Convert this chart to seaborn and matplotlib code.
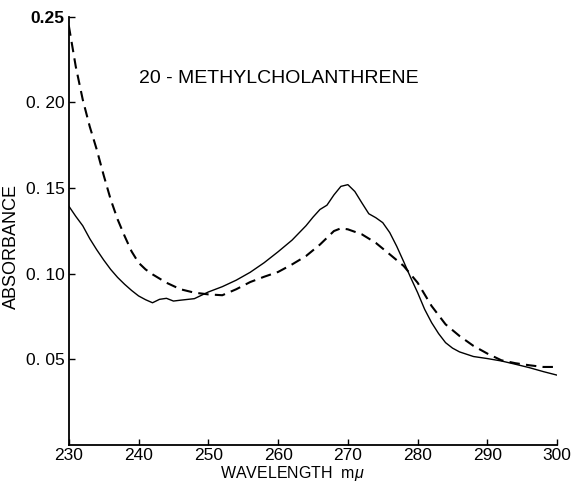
import matplotlib
matplotlib.use("Agg")
import matplotlib.pyplot as plt
import seaborn as sns
import pandas as pd

# ---- data ----
wl_solid = [230, 231, 232, 233, 234, 235, 236, 237, 238, 239, 240, 241, 242, 243, 244, 245,
            246, 248, 250, 252, 254, 256, 258, 260, 262, 264, 265, 266, 267, 268, 269,
            270, 271, 272, 273, 274, 275, 276, 277, 278, 279, 280, 281, 282, 283, 284,
            285, 286, 288, 290, 292, 294, 296, 298, 300]
abs_solid = [0.1395, 0.1335, 0.128, 0.1205, 0.114, 0.108, 0.1025, 0.0978, 0.0938, 0.0902,
             0.087, 0.0848, 0.083, 0.085, 0.0856, 0.084, 0.0845, 0.0854, 0.0893, 0.0924,
             0.0962, 0.1008, 0.1064, 0.1128, 0.1196, 0.128, 0.133, 0.1375, 0.140, 0.146,
             0.151, 0.152, 0.148, 0.1414, 0.135, 0.1327, 0.1298, 0.124, 0.116, 0.107,
             0.0977, 0.0889, 0.0792, 0.0714, 0.065, 0.0597, 0.0565, 0.0543, 0.0516,
             0.0504, 0.049, 0.0471, 0.0451, 0.0428, 0.0407]

wl_dash = [230, 231, 232, 233, 234, 235, 236, 237, 238, 239, 240, 241, 242, 244, 246, 248,
           250, 252, 254, 256, 258, 260, 262, 264, 266, 268, 269, 270, 272, 274, 276, 278,
           280, 282, 284, 286, 288, 290, 292, 294, 296, 298, 300]
abs_dash = [0.245, 0.221, 0.2017, 0.186, 0.1726, 0.1575, 0.1434, 0.1317, 0.122, 0.113,
            0.1064, 0.1025, 0.0996, 0.0947, 0.0909, 0.0889, 0.0879, 0.0874, 0.0909,
            0.0951, 0.0982, 0.101, 0.1054, 0.1103, 0.117, 0.1249, 0.1265, 0.1259, 0.123,
            0.118, 0.1113, 0.1045, 0.0947, 0.0811, 0.0704, 0.0636, 0.0578, 0.0533,
            0.0494, 0.0477, 0.0465, 0.0455, 0.0455]

x_ticks = [230, 240, 250, 260, 270, 280, 290, 300]
y_ticks = [0.05, 0.10, 0.15, 0.20, 0.25]
y_tick_labels = ["0. 05", "0. 10", "0. 15", "0. 20", "0.25"]
title_text = "20 - METHYLCHOLANTHRENE"
x_label = "WAVELENGTH  m$\\mu$"
y_label = "ABSORBANCE"

# ---- plot ----
sns.set_style("ticks")
regular = ["Liberation Sans", "DejaVu Sans"]
plt.rcParams["font.family"] = regular
plt.rcParams["mathtext.fontset"] = "custom"
plt.rcParams["mathtext.it"] = "Liberation Sans:italic"
plt.rcParams["mathtext.rm"] = "Liberation Sans"
for k in ["text.color", "axes.labelcolor", "xtick.color", "ytick.color", "axes.edgecolor"]:
    plt.rcParams[k] = "black"

fig = plt.figure(figsize=(5.78, 4.83), dpi=100)
ax = fig.add_axes([0.119, 0.079, 0.845, 0.886])

df_s = pd.DataFrame({"wl": wl_solid, "a": abs_solid})
df_d = pd.DataFrame({"wl": wl_dash, "a": abs_dash})
sns.lineplot(data=df_s, x="wl", y="a", ax=ax, color="black", linewidth=1.0)
sns.lineplot(data=df_d, x="wl", y="a", ax=ax, color="black", linewidth=1.5,
             linestyle=(0, (5, 3)))

ax.set_xlim(230, 300)
ax.set_ylim(0, 0.25)
ax.set_xticks(x_ticks)
ax.set_xticklabels([str(t) for t in x_ticks], fontsize=12.5)
ax.set_yticks(y_ticks)
ax.set_yticklabels(y_tick_labels, fontsize=12.5)
ax.get_yticklabels()[-1].set_fontweight("bold")
ax.tick_params(axis="both", direction="in", length=4, width=1.0, color="black",
               labelcolor="black")
ax.tick_params(axis="x", pad=2)
ax.tick_params(axis="y", pad=3)

for s in ["top", "right"]:
    ax.spines[s].set_visible(False)
for s in ["left", "bottom"]:
    ax.spines[s].set_linewidth(1.3)
    ax.spines[s].set_color("black")

ax.set_xlabel(x_label, fontsize=11.5, color="black")
ax.xaxis.set_label_coords(0.457, -0.044)
ax.set_ylabel(y_label, fontsize=13, color="black")
ax.yaxis.set_label_coords(-0.10, 0.463)

ax.text(240, 0.214, title_text, fontsize=14, ha="left", va="center", color="black")

fig.savefig("out.png", dpi=100)
